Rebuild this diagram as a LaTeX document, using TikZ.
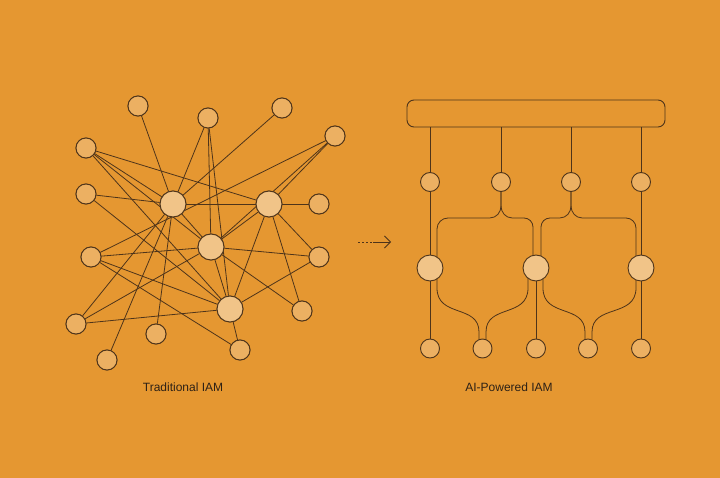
\documentclass[tikz,border=0pt]{standalone}
\usepackage{fontspec}
\setmainfont{Liberation Sans}
\usetikzlibrary{arrows.meta}
\definecolor{bgc}{RGB}{229,151,49}
\definecolor{lnc}{RGB}{78,52,26}
\definecolor{smf}{RGB}{236,176,98}
\definecolor{bgf}{RGB}{241,196,136}
\definecolor{txc}{RGB}{45,33,22}
\tikzset{
  conn/.style={draw=lnc, line width=0.8pt},
  smallnode/.style={circle, draw=lnc, fill=smf, line width=0.9pt, minimum size=20pt, inner sep=0pt},
  bignode/.style={circle, draw=lnc, fill=bgf, line width=0.9pt, minimum size=26pt, inner sep=0pt},
  rsmall/.style={circle, draw=lnc, fill=smf, line width=0.9pt, minimum size=19pt, inner sep=0pt},
  barbox/.style={draw=lnc, fill=bgc, line width=0.9pt, rounded corners=7pt, minimum width=258pt, minimum height=27pt, inner sep=0pt},
  caption/.style={text=txc, font=\fontsize{12}{14}\selectfont, inner sep=0pt}
}
\begin{document}
\begin{tikzpicture}[x=1pt,y=-1pt]
\useasboundingbox (0,0) rectangle (720,478);
\fill[bgc] (0,0) rectangle (720,478);

% ---------- left: traditional IAM ----------
\node[smallnode] (A) at (138,106) {};
\node[smallnode] (B) at (208,118) {};
\node[smallnode] (C) at (282,108) {};
\node[smallnode] (D) at (335,136) {};
\node[smallnode] (E) at (86,148) {};
\node[smallnode] (F) at (86,194) {};
\node[smallnode] (G) at (319,204) {};
\node[smallnode] (H) at (91,257) {};
\node[smallnode] (I) at (319,257) {};
\node[smallnode] (J) at (76,324) {};
\node[smallnode] (K) at (156,334) {};
\node[smallnode] (L) at (302,311) {};
\node[smallnode] (M) at (240,350) {};
\node[smallnode] (N) at (107,360) {};
\node[bignode] (P1) at (173,204) {};
\node[bignode] (P2) at (269,204) {};
\node[bignode] (P3) at (211,247) {};
\node[bignode] (P4) at (230,309) {};

\begin{scope}[conn]
\draw (A) -- (P1);
\draw (B) -- (P1);
\draw (B) -- (P3);
\draw (B) -- (P4);
\draw (C) -- (P1);
\draw (D) -- (H);
\draw (D) -- (P2);
\draw (D) -- (P3);
\draw (E) -- (P1);
\draw (E) -- (P2);
\draw (E) -- (P3);
\draw (E) -- (P4);
\draw (F) -- (P1);
\draw (F) -- (P4);
\draw (G) -- (P2);
\draw (H) -- (P3);
\draw (H) -- (P4);
\draw (H) -- (M);
\draw (I) -- (P2);
\draw (I) -- (P3);
\draw (I) -- (P4);
\draw (J) -- (P1);
\draw (J) -- (P3);
\draw (J) -- (P4);
\draw (K) -- (P1);
\draw (L) -- (P2);
\draw (L) -- (P3);
\draw (M) -- (P4);
\draw (N) -- (P1);
\draw (P1) -- (P2);
\draw (P1) -- (P3);
\draw (P2) -- (P3);
\draw (P2) -- (P4);
\draw (P3) -- (P4);
\end{scope}
% redraw nodes on top of lines
\foreach \n in {A,B,C,D,E,F,G,H,I,J,K,L,M,N}{
  \path[draw=lnc, fill=smf, line width=0.9pt] (\n) circle (10pt);
}
\foreach \n in {P1,P2,P3,P4}{
  \path[draw=lnc, fill=bgf, line width=0.9pt] (\n) circle (13pt);
}

% ---------- arrow ----------
\coordinate (a0) at (358,242);
\coordinate (a1) at (373,242);
\coordinate (a2) at (391,242);
\draw[conn, dash pattern=on 2pt off 2pt] (a0) -- (a1);
\draw[conn, -{Straight Barb[length=6pt,width=12pt]}] (a1) -- (a2);

% ---------- right: AI-powered IAM ----------
\node[barbox] (bar) at (536,113.5) {};
\node[rsmall] (s1) at (430,182) {};
\node[rsmall] (s2) at (501,182) {};
\node[rsmall] (s3) at (571,182) {};
\node[rsmall] (s4) at (641,182) {};
\node[bignode] (b1) at (430,268) {};
\node[bignode] (b2) at (536,268) {};
\node[bignode] (b3) at (641,268) {};
\node[rsmall] (t1) at (430,348.5) {};
\node[rsmall] (t2) at (482.5,348.5) {};
\node[rsmall] (t3) at (536,348.5) {};
\node[rsmall] (t4) at (588,348.5) {};
\node[rsmall] (t5) at (641,348.5) {};

\begin{scope}[conn]
% bar to first row
\draw (s1 |- bar.south) -- (s1);
\draw (s2 |- bar.south) -- (s2);
\draw (s3 |- bar.south) -- (s3);
\draw (s4 |- bar.south) -- (s4);
% straight verticals
\draw (s1) -- (b1);
\draw (b1) -- (t1);
\draw (s4) -- (b3);
\draw (b3) -- (t5);
\draw (b2) -- (t3);
% splits from s2
\draw (s2.south) -- ++(0,14) to[out=-90,in=0] ++(-11,12) -- (448,218)
      to[out=180,in=90] (437,229) -- ([shift={(7,-11)}]b1.center);
\draw (s2.south) -- ++(0,14) to[out=-90,in=180] ++(11,12) -- (524,218)
      to[out=0,in=90] (533,227) -- ([shift={(-3,-12.6)}]b2.center);
% splits from s3
\draw (s3.south) -- ++(0,14) to[out=-90,in=0] ++(-11,12) -- (550,218)
      to[out=180,in=90] (541,227) -- ([shift={(5,-12)}]b2.center);
\draw (s3.south) -- ++(0,14) to[out=-90,in=180] ++(11,12) -- (626,218)
      to[out=0,in=90] (636,228) -- ([shift={(-5,-12)}]b3.center);
% merges to bottom row
\draw ([shift={(7,11)}]b1.center) -- (437,288) .. controls (437,318) and (479,304) .. (479,332) -- ([shift={(-3.5,-9.3)}]t2.center);
\draw ([shift={(-8,10.2)}]b2.center) -- (528,288) .. controls (528,318) and (486,304) .. (486,332) -- ([shift={(3.5,-9.3)}]t2.center);
\draw ([shift={(7,11)}]b2.center) -- (543,288) .. controls (543,318) and (585,304) .. (585,332) -- ([shift={(-3,-9.5)}]t4.center);
\draw ([shift={(-5,12)}]b3.center) -- (636,288) .. controls (636,318) and (592,304) .. (592,332) -- ([shift={(4,-9.1)}]t4.center);
\end{scope}

% ---------- captions ----------
\node[caption] (cap1) at (183,387) {Traditional IAM};
\node[caption] (cap2) at (509,387) {AI-Powered IAM};
\end{tikzpicture}
\end{document}
